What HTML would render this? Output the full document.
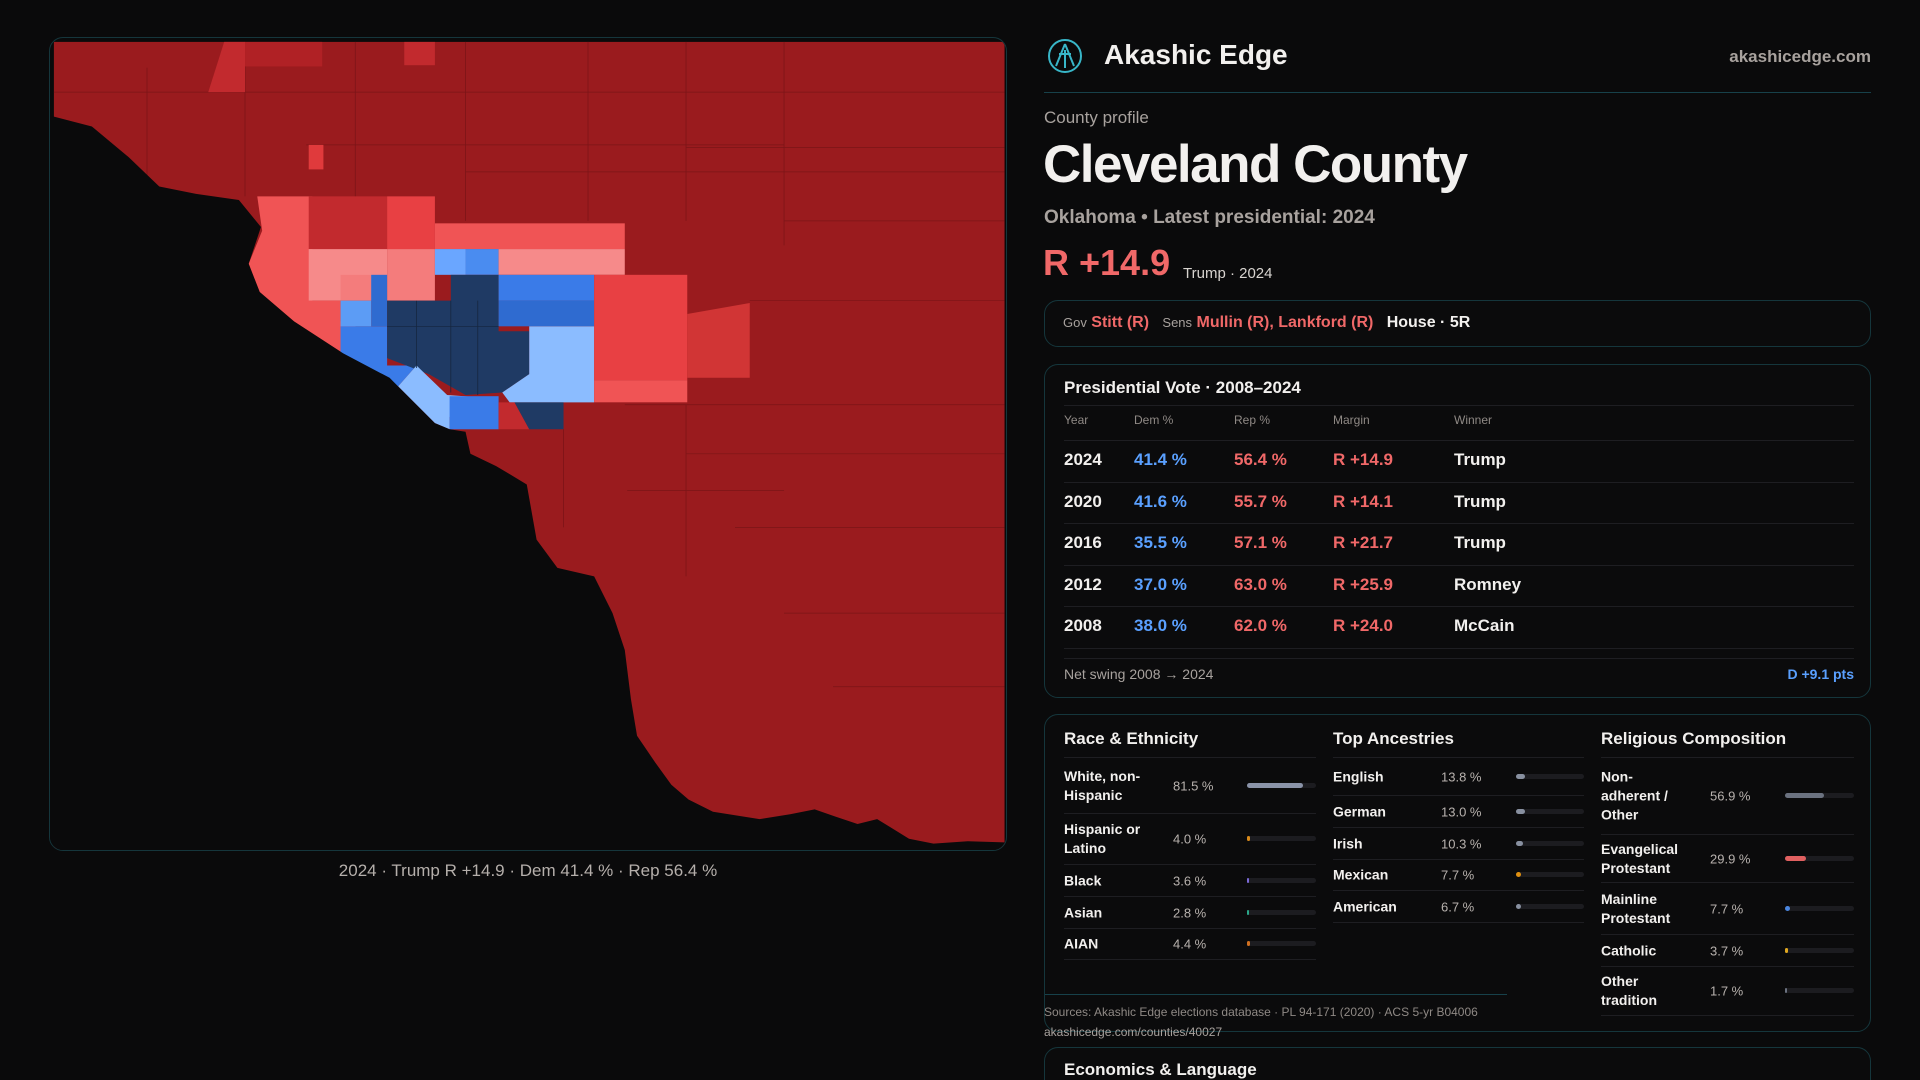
<!DOCTYPE html>
<html><head><meta charset="utf-8">
<style>
*{box-sizing:border-box;margin:0;padding:0}
html{width:1920px;height:1080px;overflow:hidden}
body{width:1920px;height:1080px;overflow:hidden;background:#0a0a0b;font-family:"Liberation Sans",sans-serif;color:#f2f0ee;position:relative}
.abs{position:absolute}
.card{position:absolute;border:1px solid #15363c;border-radius:14px;background:#0b0b0c}
.gray{color:#a8a29e}
</style></head>
<body>
<!-- MAP -->
<div class="card" style="left:49px;top:37px;width:958px;height:814px;overflow:hidden;background:#0a0a0b">
<svg width="958" height="814" viewBox="40 30 782 664" preserveAspectRatio="none" style="position:absolute;left:-1px;top:-1px">
<rect x="44" y="34" width="776" height="658" fill="#9a1b1e"/>
<g stroke="#7a1417" stroke-width="0.6" fill="none">
<path d="M44 75H820M120 55V160M200 34V160M290 34V160M380 34V180M480 34V180M560 34V180M640 34V200M250 118H640M380 140H820M560 120H820M640 180H820M612 245H820M510 330H820M560 370H820M600 430H820M640 500H820M680 560H820M512 400H640M460 350V430M560 330V470"/>
</g>
<polygon fill="#c22a2e" points="183,34 200,34 200,75 170,75"/>
<rect x="200" y="34" width="63" height="20" fill="#b02125"/>
<rect x="330" y="34" width="25" height="19" fill="#c22a2e"/>
<rect x="252" y="118" width="12" height="20" fill="#e03a3c"/>
<polygon fill="#f05455" points="210,160 255,160 255,245 278,245 278,262 292,262 280,288 240,262 212,238 203,215 214,188"/>
<rect x="252" y="160" width="64" height="43" fill="#c22a2e"/>
<rect x="316" y="160" width="39" height="43" fill="#e84043"/>
<rect x="355" y="182" width="155" height="21" fill="#f05455"/>
<rect x="252" y="203" width="64" height="42" fill="#f68a8a"/>
<rect x="316" y="203" width="39" height="42" fill="#f47c7c"/>
<rect x="355" y="203" width="25" height="21" fill="#6aa6ff"/>
<rect x="380" y="203" width="27" height="21" fill="#4a8cf0"/>
<rect x="407" y="203" width="103" height="21" fill="#f68a8a"/>
<rect x="278" y="224" width="25" height="21" fill="#f47c7c"/>
<rect x="303" y="224" width="13" height="42" fill="#2f6bd0"/>
<polygon fill="#5c9cf5" points="278,245 303,245 303,266 278,266"/>
<polygon fill="#3a7be8" points="278,266 316,266 316,298 340,298 325,315 278,290"/>
<polygon fill="#1f3a64" points="316,245 368,245 368,224 407,224 407,270 432,270 432,305 410,320 380,322 350,305 316,292"/>
<rect x="407" y="224" width="78" height="21" fill="#3a7be8"/>
<rect x="407" y="245" width="78" height="21" fill="#2f6bd0"/>
<polygon fill="#8bbcff" points="432,266 485,266 485,328 416,328 410,320 432,305"/>
<polygon fill="#8bbcff" points="325,315 340,298 365,322 392,324 367,340 367,350 355,345"/>
<rect x="367" y="323" width="40" height="27" fill="#3a7be8"/>
<polygon fill="#c22a2e" points="407,328 420,328 432,350 407,350"/>
<polygon fill="#1f3a64" points="420,328 460,328 460,350 432,350"/>
<rect x="485" y="224" width="76" height="86" fill="#e84043"/>
<rect x="485" y="310" width="76" height="18" fill="#f05455"/>
<polygon fill="#d13535" points="561,256 612,247 612,308 561,308"/>
<g stroke="#15253d" stroke-width="0.6" fill="none"><path d="M340 245V300M368 245V320M390 245V322M316 266H407"/></g>
<polygon fill="#0a0a0b" points="44,95 75,103 105,128 130,152 160,158 195,163 213,185 203,215 212,238 240,262 280,288 318,308 355,345 367,350 380,352 384,370 405,380 430,395 438,440 455,463 485,470 500,500 510,530 515,570 520,600 535,622 548,640 562,652 582,662 620,668 645,664 665,660 682,666 700,672 716,668 742,684 762,688 790,686 820,687 820,700 40,700 40,95"/>
</svg>
</div>
<div class="abs" style="left:49px;width:958px;top:861px;text-align:center;font-size:17px;color:#b5afab">2024 · Trump R +14.9 · Dem 41.4 % · Rep 56.4 %</div>

<!-- HEADER -->
<svg class="abs" style="left:1047px;top:38px" width="36" height="36" viewBox="0 0 36 36">
<circle cx="18" cy="18" r="16" fill="none" stroke="#38b6c8" stroke-width="2"/>
<path d="M18 6L9 28M18 6L27 28M12 16H24M18 12V30" stroke="#38b6c8" stroke-width="2" fill="none"/></svg>
<div class="abs" style="left:1104px;top:39px;font-size:28px;font-weight:bold">Akashic Edge</div>
<div class="abs" style="right:49px;top:47px;font-size:17px;font-weight:bold;color:#a8a29e">akashicedge.com</div>
<div class="abs" style="left:1044px;width:827px;top:92px;height:1px;background:#17414a"></div>
<div class="abs gray" style="left:1044px;top:108px;font-size:17px">County profile</div>
<div class="abs" style="left:1043px;top:134px;font-size:53px;font-weight:bold;letter-spacing:-1.5px">Cleveland County</div>
<div class="abs gray" style="left:1044px;top:207px;font-size:19px;font-weight:bold">Oklahoma • Latest presidential: 2024</div>
<div class="abs" style="left:1043px;top:242px;font-size:36px;font-weight:bold;color:#f06868">R +14.9</div>
<div class="abs" style="left:1183px;top:265px;font-size:15px;color:#d8d4d0">Trump · 2024</div>

<div class="card" style="left:1044px;top:300px;width:827px;height:47px">
<div class="abs" style="left:18px;top:13px;font-size:16px;white-space:nowrap">
<span style="font-size:13px;color:#a8a29e">Gov</span> <span style="color:#f06868;font-weight:bold">Stitt (R)</span>&nbsp;&nbsp;&nbsp;<span style="font-size:13px;color:#a8a29e">Sens</span> <span style="color:#f06868;font-weight:bold">Mullin (R), Lankford (R)</span>&nbsp;&nbsp;&nbsp;<span style="font-weight:bold">House · 5R</span></div>
</div>

<!-- PRES VOTE -->
<div class="card" style="left:1044px;top:364px;width:827px;height:334px">
<div class="abs" style="left:19px;top:13px;font-size:17px;font-weight:bold">Presidential Vote · 2008–2024</div>
<div class="abs" style="left:19px;right:16px;top:40px;height:1px;background:#1e1e22"></div>
<div class="abs" id="presTable" style="left:19px;right:16px;top:38px;height:245px"></div>
<div class="abs" style="left:19px;right:16px;top:293px;height:1px;background:#1e1e22"></div>
<div class="abs gray" style="left:19px;top:301px;font-size:14px">Net swing 2008 → 2024</div>
<div class="abs" style="right:16px;top:301px;font-size:14px;font-weight:bold;color:#5aa0ff">D +9.1 pts</div>
</div>

<!-- DEMOGRAPHICS -->
<div class="card" style="left:1044px;top:714px;width:827px;height:318px">
<div class="abs" style="left:19px;top:14px;font-size:17px;font-weight:bold">Race &amp; Ethnicity</div>
<div class="abs" style="left:288px;top:14px;font-size:17px;font-weight:bold">Top Ancestries</div>
<div class="abs" style="left:556px;top:14px;font-size:17px;font-weight:bold">Religious Composition</div>
<div class="abs" id="raceCol" style="left:19px;width:252px;top:42px;height:260px;border-top:1px solid #1e1e22"></div>
<div class="abs" id="ancCol" style="left:288px;width:251px;top:42px;height:260px;border-top:1px solid #1e1e22"></div>
<div class="abs" id="relCol" style="left:556px;width:253px;top:42px;height:270px;border-top:1px solid #1e1e22"></div>
<div class="abs" style="left:0;width:462px;top:279px;height:1px;background:#17414a"></div>
</div>
<div class="abs" style="left:1044px;top:1005px;font-size:12px;color:#8f8985">Sources: Akashic Edge elections database · PL 94-171 (2020) · ACS 5-yr B04006</div>
<div class="abs" style="left:1044px;top:1025px;font-size:12px;color:#a8a29e">akashicedge.com/counties/40027</div>

<div class="abs" style="left:1040px;top:1040px;width:840px;height:40px;overflow:hidden">
<div class="card" style="left:4px;top:7px;width:827px;height:80px">
<div class="abs" style="left:19px;top:12px;font-size:17px;font-weight:bold">Economics &amp; Language</div>
</div></div>

<script>
const presYears=["2024","2020","2016","2012","2008"];
const demPct=[41.4,41.6,35.5,37.0,38.0];
const repPct=[56.4,55.7,57.1,63.0,62.0];
const margins=[14.9,14.1,21.7,25.9,24.0];
const winners=["Trump","Trump","Trump","Romney","McCain"];
const presHeaders=["Year","Dem %","Rep %","Margin","Winner"];

const raceLabels=["White, non-Hispanic","Hispanic or Latino","Black","Asian","AIAN"];
const raceValues=[81.5,4.0,3.6,2.8,4.4];
const raceColors=["#8a93a8","#d98a1a","#7b6ad8","#2aa88a","#d07020"];
const ancLabels=["English","German","Irish","Mexican","American"];
const ancValues=[13.8,13.0,10.3,7.7,6.7];
const ancColors=["#8890a0","#8890a0","#8890a0","#e09010","#8890a0"];
const relLabels=["Non-adherent / Other","Evangelical Protestant","Mainline Protestant","Catholic","Other tradition"];
const relValues=[56.9,29.9,7.7,3.7,1.7];
const relColors=["#6b7280","#e06060","#4a86e0","#e0a820","#6b7280"];

const colX=[0,70,170,269,390];
function mk(tag,parent,css,text){const e=document.createElement(tag);e.style.cssText=css;if(text!==undefined)e.textContent=text;parent.appendChild(e);return e;}

const pt=document.getElementById('presTable');
const hdr=mk('div',pt,'position:absolute;left:0;right:0;top:0;height:38px;border-bottom:1px solid #1e1e22');


presHeaders.forEach((h,i)=>{const c=mk('div',hdr,'position:absolute;top:10px;left:'+colX[i]+'px;font-size:12px;color:#8f8985',h);

});
const rowH=41.6;
presYears.forEach((y,i)=>{
  const r=mk('div',pt,'position:absolute;left:0;right:0;top:'+(38+i*rowH)+'px;height:'+rowH+'px;border-bottom:1px solid #1e1e22;font-size:17px;font-weight:bold');
  
  
  const cells=[[y,'#f2f0ee'],[demPct[i].toFixed(1)+' %','#5aa0ff'],[repPct[i].toFixed(1)+' %','#f06868'],['R +'+margins[i].toFixed(1),'#f06868'],[winners[i],'#f2f0ee']];
  const names=['year','dem-pct','rep-pct','margin','winner'];
  cells.forEach((c,j)=>{const d=mk('div',r,'position:absolute;top:9px;left:'+colX[j]+'px;color:'+c[1],c[0]);
  
  });
});

function buildCol(id,labels,values,colors,heights,labelW,valX,barX,barW,prefix){
  const col=document.getElementById(id);let top=0;
  labels.forEach((l,i)=>{
    const r=mk('div',col,'position:absolute;left:0;right:0;top:'+top+'px;height:'+heights[i]+'px;border-bottom:1px solid #1e1e22');
    
    
    const lb=mk('div',r,'position:absolute;left:0;width:'+labelW+'px;top:50%;transform:translateY(-50%);font-size:14px;font-weight:bold;line-height:19px',l);
    
    
    const v=mk('div',r,'position:absolute;left:'+valX+'px;top:50%;transform:translateY(-50%);font-size:13px;color:#b8b2ae',values[i].toFixed(1)+' %');
    
    
    const t=mk('div',r,'position:absolute;left:'+barX+'px;width:'+barW+'px;top:50%;margin-top:-3px;height:5px;border-radius:3px;background:#1c1c20');
    
    
    const f=mk('div',t,'position:absolute;left:0;top:0;height:5px;border-radius:3px;background:'+colors[i]+';width:'+Math.max(2,values[i]/100*barW)+'px');
    
    
    top+=heights[i];
  });
}
buildCol('raceCol',raceLabels,raceValues,raceColors,[56,51,32,32,31],100,109,183,69,'race');
buildCol('ancCol',ancLabels,ancValues,ancColors,[38,32,32,31,32],100,108,183,68,'ancestry');
buildCol('relCol',relLabels,relValues,relColors,[77,48,52,32,49],90,109,184,69,'religion');
</script>
</body></html>
